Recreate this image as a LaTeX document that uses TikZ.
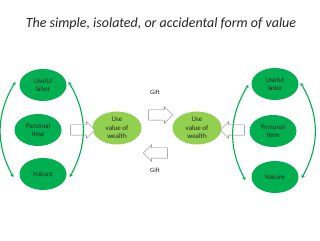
\documentclass[tikz,border=0pt]{standalone}
\usepackage{fontspec}
\setmainfont{Carlito}
\usetikzlibrary{arrows.meta,shapes.geometric,shapes.arrows}
\definecolor{valgreen}{HTML}{00B050}
\definecolor{vallime}{HTML}{92D050}
\definecolor{valgray}{HTML}{808080}
\definecolor{valink}{HTML}{262626}
\tikzset{
  src/.style={ellipse, fill=valgreen, minimum width=47pt, minimum height=32pt, inner sep=0pt, align=center, text=valink, font=\fontsize{7}{8.5}\selectfont},
  use/.style={src, fill=vallime, minimum width=49pt, minimum height=33pt},
  gift/.style={single arrow, draw=valgray, fill=white, minimum height=24pt, minimum width=16pt, single arrow head extend=3pt, inner xsep=0pt, inner ysep=5pt, text height=0pt, text depth=0pt},
  cyc/.style={{Stealth[length=3pt,width=3.5pt]}-{Stealth[length=3pt,width=3.5pt]}, line width=1.1pt, draw=valgreen},
  lbl/.style={font=\fontsize{6.5}{7}\selectfont, text=valink},
}
\begin{document}
\begin{tikzpicture}[x=1pt,y=1pt]
    \useasboundingbox[fill=white] (0,0) rectangle (320,240);
    \node[font=\fontsize{14}{16}\selectfont\itshape, text=valink] (title) at (161,216) {The simple, isolated, or accidental form of value};
    % left side
    \node[src] (ula) at (43,155) {Useful\\labor};
    \node[src] (pta) at (38,110) {Personal\\time};
    \node[src] (naa) at (43,66) {Nature};
    \node[use] (uva) at (117,112) {Use\\value of\\wealth};
    \node[gift] (ara) at (80,110) {};
    \draw[cyc] ([shift={(-4,3)}]ula.west) to[bend right=30] ([shift={(-6,-3)}]naa.west);
    \draw[cyc] ([shift={(2,3)}]ula.east) to[bend left=30] ([shift={(3,-3)}]naa.east);
    % middle
    \node[gift] (gto) at (158,125) {};
    \node[gift, shape border rotate=180] (gfrom) at (158,87) {};
    \node[lbl] (gtop) at (155,148) {Gift};
    \node[lbl] (gbot) at (155,70) {Gift};
    % right side
    \node[use] (uvb) at (197,112) {Use\\value of\\wealth};
    \node[src] (ulb) at (275,156) {Useful\\labor};
    \node[src] (ptb) at (273,109) {Personal\\time};
    \node[src] (nab) at (275,63) {Nature};
    \node[gift, shape border rotate=180] (arb) at (235,110) {};
    \draw[cyc] ([shift={(-3,-1)}]ulb.west) to[bend right=30] ([shift={(-6,-3)}]nab.west);
    \draw[cyc] ([shift={(2,1)}]ulb.east) to[bend left=30] ([shift={(3,-1)}]nab.east);
\end{tikzpicture}
\end{document}
